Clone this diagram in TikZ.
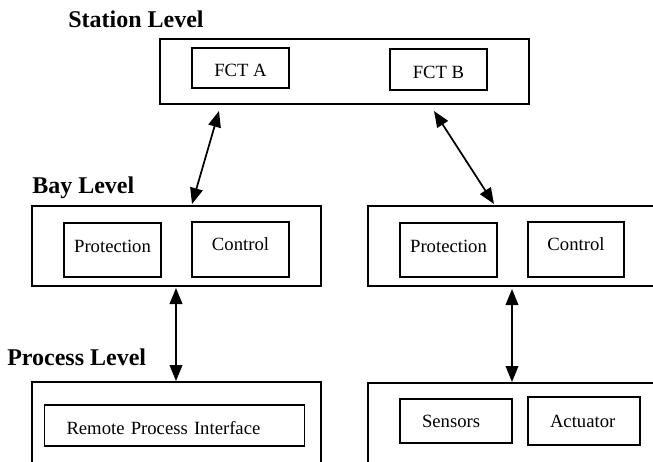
\documentclass[tikz,border=0pt]{standalone}
\usepackage{fontspec}
\setmainfont{Liberation Serif}
\usetikzlibrary{arrows.meta, calc}

\begin{document}
\begin{tikzpicture}[x=0.75pt, y=-0.75pt,
    level/.style={font=\fontsize{18}{20}\selectfont\bfseries, anchor=base west, inner sep=0pt},
    layer/.style={draw, line width=1.5pt, inner sep=0pt, minimum height=60pt},
    func/.style={draw, line width=1.2pt, inner sep=0pt, minimum width=72.75pt, font=\fontsize{14}{16}\selectfont},
    raised/.style={text depth=6pt},
    higher/.style={text depth=8pt},
    lowered/.style={text height=13pt},
    padded/.style={align=left, inner xsep=16.5pt},
    link/.style={line width=1.3pt, {Triangle[length=12pt, width=9.5pt]}-{Triangle[length=12pt, width=9.5pt]}}]

    \useasboundingbox (0,0) rectangle (653,461);

    % level titles
    \node[level] (stalbl) at (68,27) {Station Level};
    \node[level] (baylbl) at (32,193) {Bay Level};
    \node[level] (prolbl) at (7,365) {Process Level};

    % station level
    \node[layer, minimum width=276.75pt, minimum height=48.75pt] (station) at (344.5,71.5) {};
    \node[func, lowered, minimum height=30pt] (fcta) at (240.5,68) {FCT A};
    \node[func, lowered, minimum height=30.75pt] (fctb) at (438.5,69.5) {FCT B};

    % bay level
    \node[layer, minimum width=216.75pt] (bayA) at (176.5,246) {};
    \node[func, raised, minimum height=40.5pt] (protA) at (112.5,250) {Protection};
    \node[func, higher, minimum height=41.25pt] (ctrlA) at (240.5,249.5) {Control};

    \node[layer, minimum width=219pt] (bayB) at (514,246) {};
    \node[func, raised, minimum height=40.5pt] (protB) at (448.5,250) {Protection};
    \node[func, higher, minimum height=41.25pt, minimum width=72pt] (ctrlB) at (576,249.5) {Control};

    % process level
    \node[layer, minimum width=216.75pt, minimum height=60.75pt] (procA) at (176.5,422.5) {};
    \node[func, padded, lowered, text width=162pt, minimum height=30.75pt] (rpi) at (174.5,425.5) {Remote Process Interface};

    \node[layer, minimum width=219pt] (procB) at (514,423) {};
    \node[func, padded, text width=51pt, minimum height=33pt] (sens) at (456,421) {Sensors};
    \node[func, padded, text width=51pt, minimum height=36pt] (act) at (584,421) {Actuator};

    % links between levels
    \draw[link] ($(station.south west)+(60,6)$) -- ($(bayA.north west)+(161,-1)$);
    \draw[link] ($(station.south west)+(275,6)$) -- ($(bayB.north west)+(127,-1)$);
    \draw[link] ($(bayA.south west)+(145,1)$) -- ($(procA.north west)+(145,0)$);
    \draw[link] ($(bayB.south west)+(145,2)$) -- ($(procB.north west)+(145,0)$);
\end{tikzpicture}
\end{document}
